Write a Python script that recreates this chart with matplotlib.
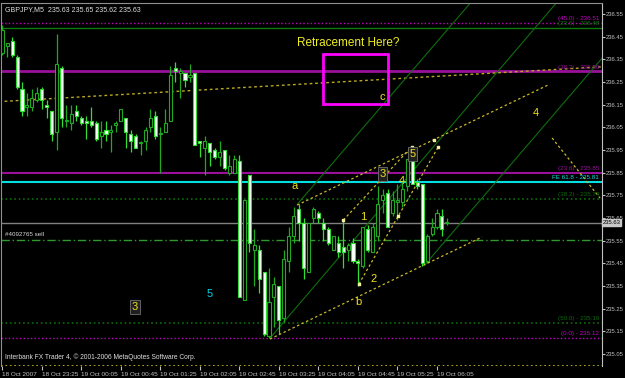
import matplotlib

matplotlib.use("Agg")
import matplotlib.pyplot as plt
from matplotlib.patches import Rectangle

plt.rcParams["font.family"] = ["Liberation Sans", "DejaVu Sans"]

# M5 candles, bar 0 = 18 Oct 22:45
opens = [236.38, 236.41, 236.43, 236.36, 236.22, 236.14, 236.14, 236.17, 236.22, 236.15,
         236.12, 236.03, 236.31, 236.08, 236.07, 236.12, 236.09, 236.08, 236.08, 236.07,
         236.01, 236.04, 236.03, 236.06, 236.08, 236.09, 236.02, 236.01, 235.98, 235.99,
         236.05, 236.10, 236.02, 236.03, 236.08, 236.31, 236.29, 236.29, 236.27, 236.29,
         235.99, 235.96, 235.98, 235.95, 235.92, 235.95, 235.85, 235.85, 235.90, 235.29,
         235.84, 235.51, 235.51, 235.41, 235.13, 235.30, 235.35, 235.21, 235.46, 235.57,
         235.69, 235.63, 235.41, 235.65, 235.67, 235.63, 235.60, 235.51, 235.54, 235.52,
         235.51, 235.54, 235.46, 235.44, 235.60, 235.50, 235.57, 235.73, 235.76, 235.67,
         235.72, 235.72, 235.79, 235.90, 235.81, 235.80, 235.46, 235.58, 235.61, 235.66,
         235.63]
highs = [236.50, 236.42, 236.45, 236.37, 236.25, 236.20, 236.22, 236.23, 236.23, 236.17,
         236.12, 236.46, 236.32, 236.15, 236.15, 236.15, 236.10, 236.10, 236.14, 236.08,
         236.08, 236.08, 236.06, 236.08, 236.13, 236.09, 236.04, 236.02, 235.99, 236.05,
         236.13, 236.12, 236.05, 236.13, 236.32, 236.34, 236.31, 236.29, 236.33, 236.29,
         235.99, 236.01, 235.98, 235.96, 235.99, 235.95, 235.93, 235.93, 235.93, 235.73,
         235.84, 235.60, 235.53, 235.41, 235.43, 235.39, 235.35, 235.51, 235.61, 235.70,
         235.71, 235.65, 235.63, 235.70, 235.68, 235.65, 235.61, 235.57, 235.57, 235.64,
         235.54, 235.56, 235.47, 235.61, 235.62, 235.63, 235.79, 235.78, 235.78, 235.77,
         235.80, 235.81, 235.91, 235.92, 235.82, 235.80, 235.58, 235.65, 235.69, 235.69,
         235.65]
lows = [236.37, 236.36, 236.36, 236.22, 236.10, 236.10, 236.12, 236.16, 236.13, 236.09,
        235.99, 235.95, 236.05, 236.05, 236.04, 236.08, 236.06, 236.00, 236.05, 235.99,
        235.96, 235.99, 235.94, 236.03, 236.08, 235.96, 235.94, 235.96, 235.93, 235.95,
        236.03, 236.00, 235.85, 236.03, 236.08, 236.25, 236.18, 236.23, 236.25, 235.97,
        235.92, 235.84, 235.88, 235.91, 235.88, 235.86, 235.84, 235.85, 235.30, 235.29,
        235.50, 235.35, 235.32, 235.13, 235.12, 235.17, 235.14, 235.19, 235.41, 235.54,
        235.55, 235.38, 235.41, 235.63, 235.63, 235.55, 235.53, 235.51, 235.48, 235.43,
        235.46, 235.45, 235.35, 235.43, 235.50, 235.50, 235.55, 235.67, 235.61, 235.66,
        235.64, 235.70, 235.77, 235.80, 235.78, 235.44, 235.45, 235.57, 235.60, 235.57,
        235.62]
closes = [236.48, 236.42, 236.37, 236.23, 236.12, 236.15, 236.18, 236.20, 236.17, 236.14,
          236.02, 236.33, 236.09, 236.08, 236.11, 236.10, 236.07, 236.07, 236.06, 236.00,
          236.03, 236.02, 236.04, 236.07, 236.13, 236.03, 235.99, 235.96, 235.98, 236.04,
          236.09, 236.01, 236.02, 236.07, 236.28, 236.30, 236.30, 236.26, 236.28, 235.97,
          235.98, 235.99, 235.94, 235.92, 235.94, 235.87, 235.88, 235.91, 235.30, 235.73,
          235.54, 235.53, 235.38, 235.14, 235.28, 235.36, 235.20, 235.47, 235.57, 235.66,
          235.63, 235.43, 235.63, 235.69, 235.65, 235.60, 235.54, 235.57, 235.50, 235.50,
          235.53, 235.46, 235.45, 235.61, 235.51, 235.61, 235.71, 235.75, 235.61, 235.73,
          235.73, 235.78, 235.91, 235.80, 235.79, 235.45, 235.57, 235.61, 235.67, 235.60,
          235.63]

time_labels = ["18 Oct 2007", "18 Oct 23:25", "19 Oct 00:05", "19 Oct 00:45", "19 Oct 01:25",
               "19 Oct 02:05", "19 Oct 02:45", "19 Oct 03:25", "19 Oct 04:05", "19 Oct 04:45",
               "19 Oct 05:25", "19 Oct 06:05"]
time_label_bars = [0, 8, 16, 24, 32, 40, 48, 56, 64, 72, 80, 88]
price_ticks = [236.55, 236.45, 236.35, 236.25, 236.15, 236.05, 235.95, 235.85,
               235.75, 235.65, 235.55, 235.45, 235.35, 235.25, 235.15, 235.05]

# horizontal objects: (price, label, colour, style, width)
hlines = [
    (236.51, "(45.0) - 236.51", "#c000c0", ":", 1.0),
    (236.487, "(23.6) - 236.48", "#0d7a0d", "-", 1.0),
    (236.297, "(38.2) - 236.30", "#9a109a", "-", 2.0),
    (235.85, "(23.6) - 235.85", "#9a109a", "-", 1.5),
    (235.808, "FE 61.8 - 235.81", "#00e0e0", "-", 1.5),
    (235.735, "(38.2) - 235.74", "#0d6a0d", ":", 1.2),
    (235.187, "(50.0) - 235.19", "#0d6a0d", ":", 1.2),
    (235.12, "(0.0) - 235.12", "#c000c0", ":", 1.0),
]
bid_price = 235.63
order_price = 235.555
order_label = "#4092765 sell"

trend_line = [(-1, 236.163), (122, 236.318)]
pitchfork = [[(59.7, 235.71), (95.2, 236.61)],
             [(54.2, 235.12), (112.2, 236.60)],
             [(85.4, 235.44), (122.0, 236.37)]]
wave_lines = [[(59.7, 235.707), (110.5, 236.237)],
              [(54.2, 235.116), (97.1, 235.566)],
              [(69.05, 235.641), (82.9, 235.965)],
              [(72.2, 235.359), (88.3, 235.965)],
              [(111.3, 236.003), (121.0, 235.738)]]
wave_dots = [(69.05, 235.641), (72.2, 235.359), (76.8, 235.818), (80.2, 235.657),
             (82.9, 235.965), (87.3, 235.995), (88.3, 235.965)]
wave_labels = [("a", 59.1, 235.791, False), ("b", 72.0, 235.280, False), ("c", 76.9, 236.184, False),
               ("1", 73.0, 235.655, False), ("2", 75.1, 235.381, False), ("3", 77.0, 235.844, True),
               ("4", 80.9, 235.813, False), ("5", 83.0, 235.932, True), ("4", 108.1, 236.113, False),
               ("3", 26.9, 235.258, True)]

fig = plt.figure(figsize=(6.25, 3.78), dpi=100, facecolor="black")
ax = fig.add_axes([1 / 625, 12 / 378, 601 / 625, 363.3 / 378])
ax.set_facecolor("black")
ax.set_xlim(-0.25, 121.4)
ax.set_ylim(234.997, 236.600)

# candles
for i, (o, h, l, c) in enumerate(zip(opens, highs, lows, closes)):
    bear = c < o
    col = "#30e030" if bear else "#1faa1f"
    ax.vlines(i, l, h, color=col, lw=0.9, zorder=3)
    body = max(abs(c - o), 0.004)
    ax.bar(i, body, bottom=min(o, c), width=0.62,
           color="white" if bear else "black", edgecolor=col, lw=0.8, zorder=4)

for price, label, col, ls, lw in hlines:
    ax.axhline(price, color=col, ls=ls, lw=lw, zorder=2)
    ax.text(120.8, price + 0.008, label, color=col, fontsize=4.5, ha="right", va="bottom", zorder=6)

ax.axhline(bid_price, color="#808080", lw=1.0, zorder=2)
ax.axhline(order_price, color="#2e9a2e", ls=(0, (6, 2, 1, 2)), lw=1.0, zorder=2)
ax.text(0.6, order_price + 0.012, order_label, color="#d8d8d8", fontsize=4.5, va="bottom")
ax.axhline(234.999, color="#c8c020", ls=":", lw=1.2, zorder=2)

(x0, y0), (x1, y1) = trend_line
ax.plot([x0, x1], [y0, y1], color="#b8a820", ls=(0, (2, 2)), lw=1.0, zorder=2)
for seg in pitchfork:
    ax.plot([p[0] for p in seg], [p[1] for p in seg], color="#0e6e0e", lw=0.8, zorder=2)
for seg in wave_lines:
    ax.plot([p[0] for p in seg], [p[1] for p in seg], color="#c8b828", ls=(0, (2, 2)), lw=0.9, zorder=5)
ax.scatter([p[0] for p in wave_dots], [p[1] for p in wave_dots], s=4, marker="s", color="#f0f0a0", zorder=6)

for txt, bx, py, boxed in wave_labels:
    kw = dict(boxstyle="square,pad=0.15", fc="#202020", ec="#707070", lw=0.6) if boxed else None
    ax.text(bx, py, txt, color="#f0e020", fontsize=8, ha="center", va="center", bbox=kw, zorder=7)
ax.text(41.9, 235.315, "5", color="#00d0e0", fontsize=8, ha="center", va="center", zorder=7)

ax.text(70.0, 236.422, "Retracement Here?", color="#f0f020", fontsize=8.5, ha="center", va="center")
ax.add_patch(Rectangle((64.9, 236.153), 13.2, 0.221, fill=False, ec="#ff00ff", lw=2.0, zorder=6))

ax.text(0.6, 236.585, "GBPJPY,M5  235.63 235.65 235.62 235.63", color="#e0e0e0", fontsize=5, va="top")
ax.text(0.6, 235.035, "Interbank FX Trader 4, \u00a9 2001-2006 MetaQuotes Software Corp.",
        color="#e0e0e0", fontsize=4.8, va="center")

# axes
for side in ["left", "top"]:
    ax.spines[side].set_color("#909090")
ax.spines["right"].set_color("#c0c0c0")
ax.spines["bottom"].set_visible(False)
ax.yaxis.tick_right()
ax.set_yticks(price_ticks)
ax.set_yticklabels([f"{p:.2f}" for p in price_ticks])
ax.set_xticks(time_label_bars)
ax.set_xticklabels(time_labels)
ax.tick_params(axis="y", colors="#c0c0c0", labelsize=4.2, length=2, pad=1)
ax.tick_params(axis="x", colors="#c0c0c0", labelsize=4.6, length=3, pad=1)
for lab in ax.get_xticklabels():
    lab.set_horizontalalignment("left")

ax.text(121.5, bid_price, f"{bid_price:.2f}", color="black", fontsize=4.2, va="center", ha="left",
        bbox=dict(boxstyle="square,pad=0.12", fc="#c8c8c8", ec="#c8c8c8"), clip_on=False, zorder=8)

fig.savefig("out.png", dpi=100, facecolor="black")
